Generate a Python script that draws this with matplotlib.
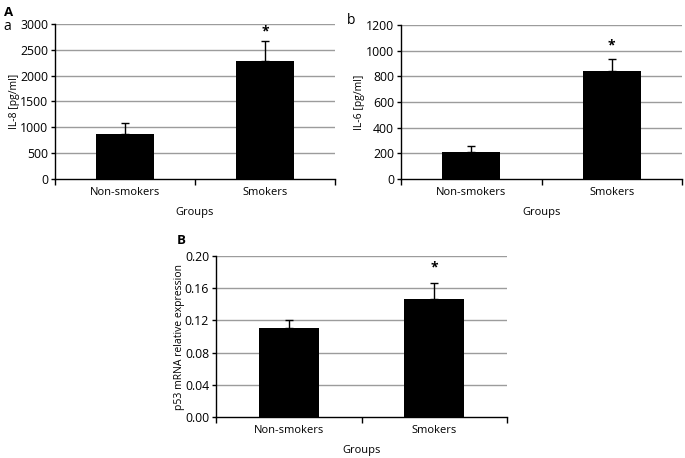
import matplotlib
matplotlib.use("Agg")
import matplotlib.pyplot as plt
from matplotlib.ticker import FixedLocator, NullFormatter, FixedFormatter

categories = ["Non-smokers", "Smokers"]
il8_values = [880, 2280]
il8_err = [200, 400]
il8_ticks = [0, 500, 1000, 1500, 2000, 2500, 3000]
il8_ticklabels = ["0", "500", "1000", "1500", "2000", "2500", "3000"]

il6_values = [210, 840]
il6_err = [50, 97]
il6_ticks = [0, 200, 400, 600, 800, 1000, 1200]
il6_ticklabels = ["0", "200", "400", "600", "800", "1000", "1200"]

p53_values = [0.110, 0.147]
p53_err = [0.010, 0.020]
p53_ticks = [0.0, 0.04, 0.08, 0.12, 0.16, 0.20]
p53_ticklabels = ["0.00", "0.04", "0.08", "0.12", "0.16", "0.20"]

plt.rcParams['font.family'] = ['Open Sans', 'DejaVu Sans']
FS_TICK = 8.8
FS_CAT = 8.0
FS_LAB = 7.5

W, H = 685, 458
fig = plt.figure(figsize=(W / 100, H / 100), dpi=100)


def ax_px(l, r, t, b):
    return fig.add_axes([l / W, (H - b) / H, (r - l) / W, (b - t) / H])


def panel(ax, vals, errs, ticks, ticklabels, ylabel, ymax, star_y, lpad):
    x = list(range(len(categories)))
    ax.set_xlim(-0.5, 1.5)
    ax.set_ylim(0, ymax)
    for t in ticks[1:]:
        ax.axhline(t, color="#9c9c9c", lw=1.0, zorder=0)
    ax.bar(x, vals, width=0.41, color="black", zorder=2)
    ax.errorbar(x, vals, yerr=[[0] * len(errs), errs], fmt="none",
                ecolor="black", elinewidth=1.0, capsize=3, capthick=1.0, zorder=3)
    ax.text(1, star_y, "*", ha="center", va="center", fontsize=10, fontweight="bold")
    ax.spines["top"].set_visible(False)
    ax.spines["right"].set_visible(False)
    ax.spines["left"].set_linewidth(1.0)
    ax.spines["bottom"].set_linewidth(1.0)
    ax.xaxis.set_major_locator(FixedLocator([-0.5, 0.5, 1.5]))
    ax.xaxis.set_major_formatter(NullFormatter())
    ax.xaxis.set_minor_locator(FixedLocator(x))
    ax.xaxis.set_minor_formatter(FixedFormatter(categories))
    ax.tick_params(axis="x", which="major", length=4, width=1.0, direction="out")
    ax.tick_params(axis="x", which="minor", length=0, labelsize=FS_CAT, pad=6)
    ax.set_yticks(ticks)
    ax.set_yticklabels(ticklabels)
    ax.tick_params(axis="y", length=3, width=1.0, labelsize=FS_TICK, pad=2)
    ax.set_ylabel(ylabel, fontsize=FS_LAB, labelpad=lpad)
    ax.set_xlabel("Groups", fontsize=FS_CAT, labelpad=6)


ax1 = ax_px(55, 335, 24, 179)
panel(ax1, il8_values, il8_err, il8_ticks, il8_ticklabels, "IL-8 [pg/ml]", 3000, 2860, 0)

ax2 = ax_px(401, 682, 25, 179)
panel(ax2, il6_values, il6_err, il6_ticks, il6_ticklabels, "IL-6 [pg/ml]", 1200, 1040, 1)

ax3 = ax_px(216, 507, 256, 417)
panel(ax3, p53_values, p53_err, p53_ticks, p53_ticklabels,
      "p53 mRNA relative expression", 0.20, 0.186, 0)

fig.text(4 / W, 1 - 12 / H, "A", fontsize=9.5, fontweight="bold", va="center", ha="left")
fig.text(3 / W, 1 - 27 / H, "a", fontsize=10, va="center", ha="left")
fig.text(347 / W, 1 - 20 / H, "b", fontsize=10, va="center", ha="left")
fig.text(177 / W, 1 - 241 / H, "B", fontsize=9.5, fontweight="bold", va="center", ha="left")

fig.savefig("out.png", dpi=100)
